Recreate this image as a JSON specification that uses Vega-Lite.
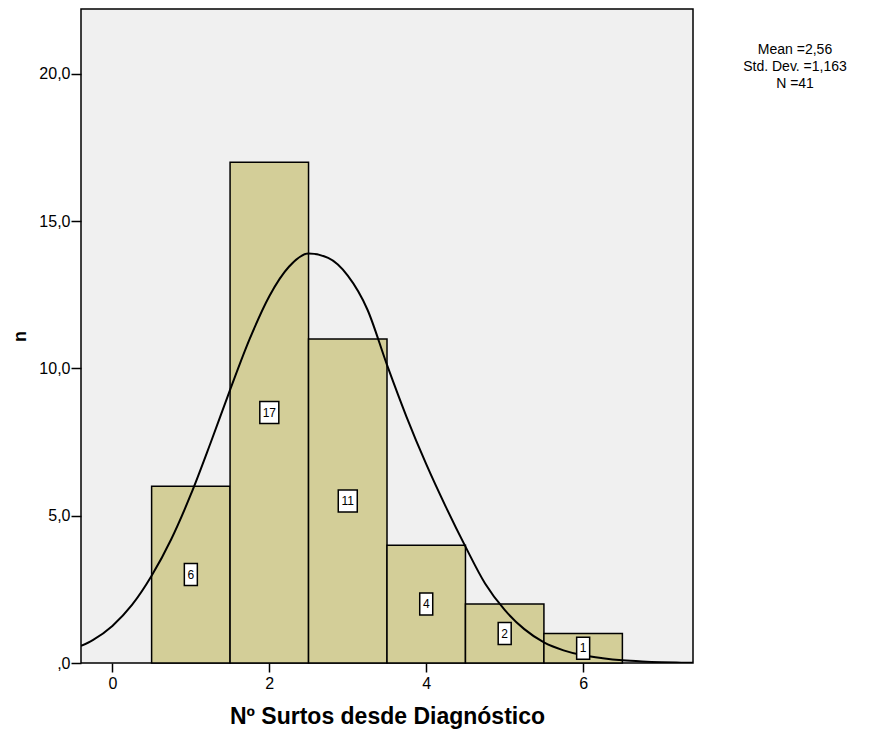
{
  "$schema": "https://vega.github.io/schema/vega-lite/v6.json",
  "width": 612,
  "height": 654,
  "autosize": {"type": "none"},
  "padding": {"left": 81, "top": 9, "right": 176, "bottom": 72},
  "background": "white",
  "config": {
    "font": "Liberation Sans",
    "view": {"fill": "#F0F0F0", "stroke": "black", "strokeWidth": 1.5}
  },
  "title": {
    "text": ["Mean =2,56", "Std. Dev. =1,163", "N =41"],
    "orient": "top",
    "anchor": "end",
    "frame": "group",
    "align": "center",
    "baseline": "top",
    "fontSize": 14,
    "fontWeight": "normal",
    "lineHeight": 17,
    "dx": 102,
    "dy": 82,
    "offset": 0,
    "font": "Liberation Sans",
    "color": "black"
  },
  "datasets": {
    "bins": [
      {"k": 1, "lo": 0.5, "hi": 1.5, "n": 6},
      {"k": 2, "lo": 1.5, "hi": 2.5, "n": 17},
      {"k": 3, "lo": 2.5, "hi": 3.5, "n": 11},
      {"k": 4, "lo": 3.5, "hi": 4.5, "n": 4},
      {"k": 5, "lo": 4.5, "hi": 5.5, "n": 2},
      {"k": 6, "lo": 5.5, "hi": 6.5, "n": 1}
    ],
    "curve": [
      {"x": -0.4, "y": 0.58},
      {"x": -0.25, "y": 0.78},
      {"x": 0, "y": 1.26},
      {"x": 0.25, "y": 1.97},
      {"x": 0.5, "y": 2.96},
      {"x": 0.75, "y": 4.2},
      {"x": 1.0, "y": 5.72},
      {"x": 1.25, "y": 7.46},
      {"x": 1.5, "y": 9.27},
      {"x": 1.75, "y": 11.0},
      {"x": 2.0, "y": 12.45},
      {"x": 2.25, "y": 13.45},
      {"x": 2.5, "y": 13.9},
      {"x": 2.75, "y": 13.75},
      {"x": 3.0, "y": 13.15},
      {"x": 3.25, "y": 12.0},
      {"x": 3.5, "y": 10.12},
      {"x": 3.75, "y": 8.35},
      {"x": 4.0, "y": 6.75},
      {"x": 4.25, "y": 5.3},
      {"x": 4.5, "y": 3.95},
      {"x": 4.75, "y": 2.7},
      {"x": 5.0, "y": 1.8},
      {"x": 5.25, "y": 1.15},
      {"x": 5.5, "y": 0.7},
      {"x": 5.75, "y": 0.43},
      {"x": 6.0, "y": 0.26},
      {"x": 6.25, "y": 0.16},
      {"x": 6.5, "y": 0.09},
      {"x": 6.75, "y": 0.05},
      {"x": 7.0, "y": 0.025},
      {"x": 7.25, "y": 0.012},
      {"x": 7.4, "y": 0.008}
    ]
  },
  "layer": [
    {
      "data": {"name": "bins"},
      "mark": {"type": "rect", "fill": "#D3CE98", "stroke": "black", "strokeWidth": 1.5},
      "encoding": {
        "x": {
          "field": "lo", "type": "quantitative",
          "scale": {"domain": [-0.4, 7.4], "nice": false, "zero": false},
          "axis": {
            "values": [0, 2, 4, 6],
            "format": "d",
            "title": "Nº Surtos desde Diagnóstico",
            "domain": false, "grid": false,
            "tickSize": 9, "tickWidth": 1.5, "tickColor": "black",
            "labelFontSize": 16, "labelColor": "black", "labelPadding": 3,
            "titleFontSize": 23, "titleFontWeight": "bold", "titleColor": "black",
            "titlePadding": 14
          }
        },
        "x2": {"field": "hi"},
        "y": {
          "field": "n", "type": "quantitative",
          "scale": {"domain": [0, 22.2], "nice": false},
          "axis": {
            "values": [0, 5, 10, 15, 20],
            "labelExpr": "datum.value == 0 ? ',0' : replace(format(datum.value, '.1f'), '.', ',')",
            "title": "n",
            "domain": false, "grid": false,
            "tickSize": 10, "tickWidth": 1.5, "tickColor": "black",
            "labelFontSize": 16, "labelColor": "black", "labelPadding": 1,
            "titleFontSize": 18, "titleFontWeight": "bold", "titleColor": "black",
            "titlePadding": 9
          }
        },
        "y2": {"datum": 0}
      }
    },
    {
      "data": {"name": "curve"},
      "mark": {"type": "line", "stroke": "black", "strokeWidth": 2, "interpolate": "monotone", "clip": true},
      "encoding": {
        "x": {"field": "x", "type": "quantitative"},
        "y": {"field": "y", "type": "quantitative"}
      }
    },
    {
      "data": {"name": "bins"},
      "transform": [{"calculate": "datum.n / 2", "as": "mid"}],
      "mark": {"type": "point", "fill": "white", "stroke": "black", "strokeWidth": 1.5, "opacity": 1, "fillOpacity": 1, "size": 400},
      "encoding": {
        "x": {"field": "k", "type": "quantitative"},
        "y": {"field": "mid", "type": "quantitative"},
        "shape": {
          "condition": {"test": "datum.n >= 10", "value": "M-0.95,-1.1L0.95,-1.1L0.95,1.1L-0.95,1.1Z"},
          "value": "M-0.65,-1.1L0.65,-1.1L0.65,1.1L-0.65,1.1Z"
        }
      }
    },
    {
      "data": {"name": "bins"},
      "transform": [{"calculate": "datum.n / 2", "as": "mid"}],
      "mark": {"type": "text", "fontSize": 12, "color": "black", "align": "center", "baseline": "middle"},
      "encoding": {
        "x": {"field": "k", "type": "quantitative"},
        "y": {"field": "mid", "type": "quantitative"},
        "text": {"field": "n", "type": "quantitative"}
      }
    }
  ]
}
